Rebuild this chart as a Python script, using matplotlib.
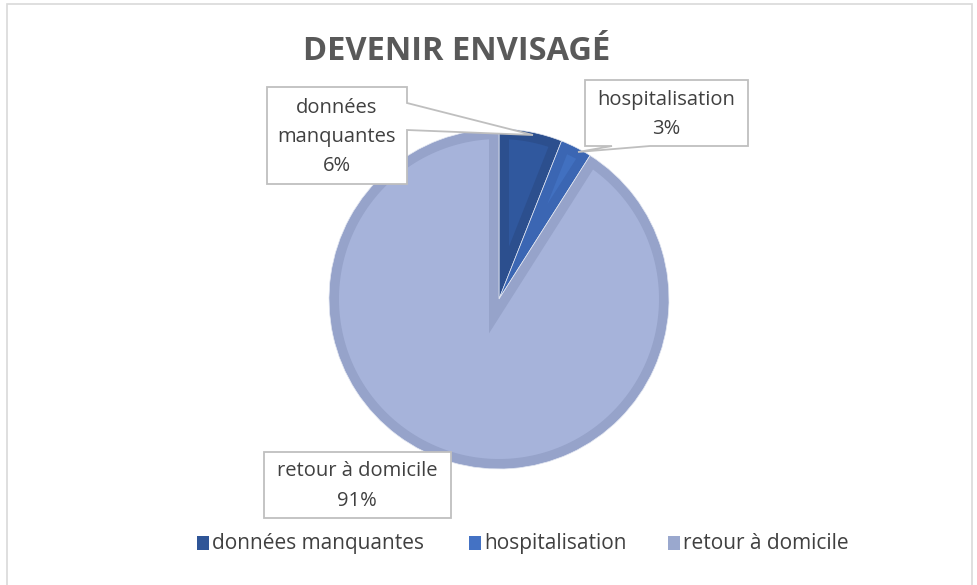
import numpy as np
import matplotlib.pyplot as plt
from matplotlib.patches import Rectangle, Polygon

# data
categories = ['données manquantes', 'hospitalisation', 'retour à domicile']
values = [6, 3, 91]
labels = ['données\nmanquantes\n6%', 'hospitalisation\n3%', 'retour à domicile\n91%']

fills = ['#30589E', '#4170C0', '#A6B3DA']
rims = ['#2C4F8E', '#3B66B3', '#96A3CA']
legend_cols = ['#2F5597', '#4472C4', '#9AA8CE']

W, H = 978, 585
fig = plt.figure(figsize=(W / 100, H / 100), dpi=100)
plt.rcParams['font.family'] = ['Open Sans', 'DejaVu Sans']

def fx(px):
    return px / W

def fy(py):
    return 1 - py / H

# outer chart border
fig.add_artist(Rectangle((fx(7), fy(600)), fx(972 - 7), (600 - 4) / H,
                         transform=fig.transFigure, fill=False,
                         edgecolor='#D9D9D9', lw=1.2))

fig.text(fx(457), fy(52), 'DEVENIR ENVISAGÉ', ha='center', va='center',
         fontsize=23.5, fontweight='bold', color='#595959')

# pie axes, centre (499, 299), radius 170 px
cx, cy, r = 499, 299, 170
ax = fig.add_axes([fx(cx - r), fy(cy + r), 2 * r / W, 2 * r / H])
wedges, _ = ax.pie(values, colors=rims, startangle=90, counterclock=False,
                   radius=1.0, wedgeprops=dict(edgecolor='#E4E8F2', lw=0.5))

# inner (lighter) part of each slice, inset by a few px to make the bevel
d = 10.0 / r
R = 1.0 - d
for w, fc in zip(wedges, fills):
    t1, t2 = np.radians(w.theta1), np.radians(w.theta2)
    h = (t2 - t1) / 2
    mid = (t1 + t2) / 2
    apex = np.array([np.cos(mid), np.sin(mid)]) * d / np.sin(h)

    def hit(t):
        u = np.array([np.cos(t), np.sin(t)])
        b = apex @ u
        s = -b + np.sqrt(b * b - (apex @ apex - R * R))
        p = apex + s * u
        return np.arctan2(p[1], p[0])

    a1, a2 = hit(t1), hit(t2)
    while a2 < a1:
        a2 += 2 * np.pi
    arc = np.linspace(a1, a2, 200)
    pts = [tuple(apex)] + list(zip(R * np.cos(arc), R * np.sin(arc)))
    ax.add_patch(Polygon(pts, closed=True, facecolor=fc, edgecolor='none'))

ax.set_xlim(-1, 1)
ax.set_ylim(-1, 1)
ax.set_aspect('equal')
ax.axis('off')

# callout boxes (pixel coords)
def callout(pts):
    xs = [fx(p[0]) for p in pts]
    ys = [fy(p[1]) for p in pts]
    fig.add_artist(Polygon(list(zip(xs, ys)), closed=True,
                           transform=fig.transFigure, facecolor='white',
                           edgecolor='#BFBFBF', lw=1.3, zorder=5))

callout([(267, 87), (407, 87), (407, 103), (533, 135), (407, 130),
         (407, 184), (267, 184)])
callout([(585, 80), (748, 80), (748, 146), (650, 146), (578, 152),
         (612, 146), (585, 146)])
callout([(264, 452), (451, 452), (451, 518), (264, 518)])

txt = dict(ha='center', va='center', fontsize=14.5, color='#404040',
           linespacing=1.6, zorder=6)
fig.text(fx(337), fy(137), labels[0], **txt)
fig.text(fx(666), fy(114), labels[1], **txt)
fig.text(fx(357), fy(486), labels[2], **txt)

# legend, laid out by hand
leg_x = [197, 469, 668]
for x, c, name in zip(leg_x, legend_cols, categories):
    fig.add_artist(Rectangle((fx(x), fy(550)), 12 / W, 14 / H,
                             transform=fig.transFigure, facecolor=c,
                             edgecolor='none'))
    fig.text(fx(x + 15), fy(549), name, ha='left', va='baseline',
             fontsize=15, color='#404040')

fig.savefig('out.png', dpi=100)
